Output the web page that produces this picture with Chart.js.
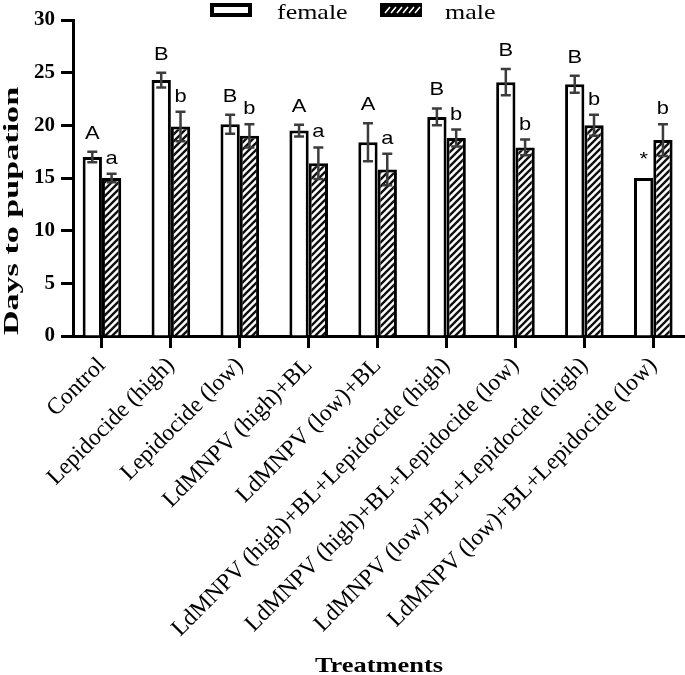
<!DOCTYPE html>
<html>
<head>
<meta charset="utf-8">
<script src="https://cdn.jsdelivr.net/npm/chart.js@4"></script>
<style>
  html, body { margin: 0; padding: 0; background: #fff; }
</style>
</head>
<body>
<canvas id="chart" width="685" height="675"></canvas>
<script>
// data
const treatments = [
    'Control',
    'Lepidocide (high)',
    'Lepidocide (low)',
    'LdMNPV (high)+BL',
    'LdMNPV (low)+BL',
    'LdMNPV (high)+BL+Lepidocide (high)',
    'LdMNPV (high)+BL+Lepidocide (low)',
    'LdMNPV (low)+BL+Lepidocide (high)',
    'LdMNPV (low)+BL+Lepidocide (low)'
];
const female = [17.0, 24.3, 20.1, 19.5, 18.4, 20.8, 24.1, 23.9, 15.0];
const femaleErr = [0.5, 0.7, 0.9, 0.55, 1.8, 0.8, 1.25, 0.8, 0];
const male = [15.0, 19.9, 19.0, 16.4, 15.8, 18.8, 17.9, 20.0, 18.6];
const maleErr = [0.4, 1.4, 1.1, 1.5, 1.5, 0.8, 0.75, 1.0, 1.5];
const femaleLetters = ['A', 'B', 'B', 'A', 'A', 'B', 'B', 'B', '*'];
const maleLetters = ['a', 'b', 'b', 'a', 'a', 'b', 'b', 'b', 'b'];
const yTicks = [0, 5, 10, 15, 20, 25, 30];

const SERIF = '"Liberation Serif", "Times New Roman", serif';
const SANS = '"Liberation Sans", Arial, sans-serif';

const canvas = document.getElementById('chart');
const ctx = canvas.getContext('2d');

// diagonal hatch for the male bars
const makeHatch = () => {
    const c = document.createElement('canvas');
    c.width = 7; c.height = 7;
    const g = c.getContext('2d');
    g.fillStyle = '#fff';
    g.fillRect(0, 0, 7, 7);
    g.strokeStyle = '#111';
    g.lineWidth = 2.4;
    g.beginPath();
    for (let k = -1; k <= 1; k++) {
        g.moveTo(k * 7 - 1, 8);
        g.lineTo(k * 7 + 8, -1);
    }
    g.stroke();
    return ctx.createPattern(c, 'repeat');
};

// text drawn wider than the font, like the exported figure
const wideText = (c, text, x, y, sx, align, rot) => {
    c.save();
    c.translate(x, y);
    if (rot) c.rotate(rot);
    c.scale(sx, 1);
    c.textAlign = align;
    c.fillText(text, 0, 0);
    c.restore();
};

const extras = {
    id: 'extras',
    afterDatasetsDraw: (chart) => {
        const c = chart.ctx;
        const y = chart.scales.y;
        const sets = [
            { vals: female, errs: femaleErr, letters: femaleLetters, gap: 13 },
            { vals: male, errs: maleErr, letters: maleLetters, gap: 10 }
        ];
        sets.forEach((s, i) => {
            const meta = chart.getDatasetMeta(i);
            meta.data.forEach((bar, j) => {
                const x = bar.x;
                const e = s.errs[j];
                const top = y.getPixelForValue(s.vals[j] + e);
                if (e > 0) {
                    const bot = y.getPixelForValue(s.vals[j] - e);
                    c.save();
                    c.strokeStyle = '#3c3c3c';
                    c.lineWidth = 2.5;
                    c.beginPath();
                    c.moveTo(x, top); c.lineTo(x, bot);
                    c.moveTo(x - 5, top); c.lineTo(x + 5, top);
                    c.moveTo(x - 5, bot); c.lineTo(x + 5, bot);
                    c.stroke();
                    c.restore();
                }
                c.save();
                c.fillStyle = '#000';
                c.font = '19px ' + SANS;
                c.textBaseline = 'alphabetic';
                wideText(c, s.letters[j], x, top - s.gap, 1.15, 'center');
                c.restore();
            });
        });
    },
    afterDraw: (chart) => {
        const c = chart.ctx;
        c.save();
        c.textBaseline = 'alphabetic';

        // legend
        c.lineWidth = 4;
        c.strokeStyle = '#000';
        c.fillStyle = '#fff';
        c.fillRect(212, 5, 38, 10);
        c.strokeRect(212, 5, 38, 10);
        c.fillStyle = '#000';
        c.fillRect(380, 3, 42, 14);
        c.strokeStyle = '#fff';
        c.lineWidth = 1.6;
        c.beginPath();
        for (let k = 0; k < 6; k++) {
            c.moveTo(385 + k * 6, 13);
            c.lineTo(390 + k * 6, 7);
        }
        c.stroke();
        c.fillStyle = '#000';
        c.font = '22px ' + SERIF;
        wideText(c, 'female', 277, 19, 1.18, 'left');
        wideText(c, 'male', 445, 19, 1.18, 'left');

        // axis titles
        c.font = 'bold 22px ' + SERIF;
        wideText(c, 'Days to pupation', 18, 211, 1.55, 'center', -Math.PI / 2);
        wideText(c, 'Treatments', 379, 672, 1.2, 'center');
        c.restore();
    }
};

const draw = () => {
    new Chart(ctx, {
        type: 'bar',
        data: {
            datasets: [
                {
                    label: 'female',
                    data: female.map((v, i) => ({ x: i, y: v })),
                    backgroundColor: '#fff',
                    borderColor: '#000',
                    borderWidth: 3
                },
                {
                    label: 'male',
                    data: male.map((v, i) => ({ x: i, y: v })),
                    backgroundColor: makeHatch(),
                    borderColor: '#000',
                    borderWidth: 3
                }
            ]
        },
        options: {
            responsive: false,
            animation: false,
            devicePixelRatio: 1,
            categoryPercentage: 0.56,
            barPercentage: 1.0,
            layout: { padding: { top: 20, left: 0, right: 0, bottom: 0 } },
            plugins: {
                legend: { display: false },
                tooltip: { enabled: false }
            },
            scales: {
                x: {
                    type: 'linear',
                    min: -0.42,
                    max: 8.46,
                    offset: false,
                    grid: {
                        offset: false,
                        drawOnChartArea: false,
                        drawTicks: true,
                        tickLength: 12,
                        tickWidth: 3,
                        tickColor: '#000'
                    },
                    border: { display: true, color: '#000', width: 3 },
                    afterBuildTicks: (scale) => {
                        scale.ticks = treatments.map((t, i) => ({ value: i }));
                    },
                    ticks: {
                        color: '#000',
                        autoSkip: false,
                        maxRotation: 45,
                        minRotation: 45,
                        padding: 4,
                        callback: (v) => treatments[v],
                        font: { family: SERIF, size: 23.5 }
                    },
                    afterFit: (scale) => {
                        scale.height = 339;
                        scale.paddingLeft = 0;
                        scale.paddingRight = 0;
                    }
                },
                y: {
                    min: 0,
                    max: 30,
                    grid: {
                        drawOnChartArea: false,
                        drawTicks: true,
                        tickLength: 12,
                        tickWidth: 3,
                        tickColor: '#000'
                    },
                    border: { display: true, color: '#000', width: 3 },
                    afterBuildTicks: (scale) => {
                        scale.ticks = yTicks.map(v => ({ value: v }));
                    },
                    ticks: {
                        color: '#000',
                        padding: 6,
                        font: { family: SERIF, size: 21, weight: 'bold' }
                    },
                    afterFit: (scale) => {
                        scale.width = 73;
                    }
                }
            }
        },
        plugins: [extras]
    });
};

// make sure the system fonts are ready before the canvas uses them
Promise.all([
    document.fonts.load('22px "Liberation Serif"'),
    document.fonts.load('bold 22px "Liberation Serif"'),
    document.fonts.load('19px "Liberation Sans"')
]).then(draw, draw);
</script>
</body>
</html>
